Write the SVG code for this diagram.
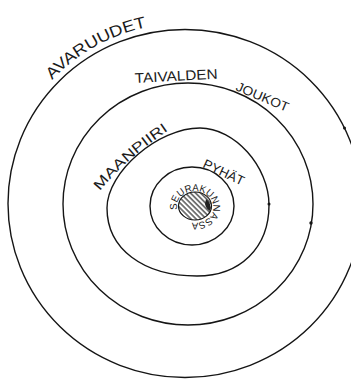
<svg xmlns="http://www.w3.org/2000/svg" xmlns:xlink="http://www.w3.org/1999/xlink" width="351" height="379" viewBox="0 0 351 379">
  <style>
    .ring { fill: none; stroke: #151515; stroke-width: 1.4; }
    .blob { fill: #151515; }
    .lbl { font-family: "Liberation Sans", "DejaVu Sans", sans-serif; fill: #1a1a1a; }
  </style>
  <defs>
    <pattern id="hatch" patternUnits="userSpaceOnUse" width="3.6" height="3.6" patternTransform="rotate(45)">
      <line x1="0" y1="1.8" x2="3.6" y2="1.8" stroke="#151515" stroke-width="1.1"/>
    </pattern>
    <path id="pAvar" d="M 52 80 A 183 181 0 0 1 230 28.6"/>
    <path id="pMaan" d="M 100 191 Q 127 157 178 124"/>
    <path id="pCore" d="M 177.3 209.6 A 18 15 0 1 1 212.7 204.4 A 18 15 0 1 1 177.3 209.6"/>
  </defs>
  <rect width="351" height="379" fill="#ffffff"/>

  <g id="avaruudet">
    <ellipse class="ring" cx="185" cy="203.5" rx="177" ry="174"/>
    <circle class="blob" cx="344.5" cy="128" r="1.5"/>
    <text class="lbl" font-size="16"><textPath href="#pAvar" xlink:href="#pAvar" textLength="110" lengthAdjust="spacingAndGlyphs">AVARUUDET</textPath></text>
  </g>

  <g id="taivalden-joukot">
    <ellipse class="ring" cx="188" cy="204" rx="125" ry="121"/>
    <circle class="blob" cx="311" cy="223" r="1.7"/>
    <text class="lbl" font-size="14" x="135" y="83" transform="rotate(-3 135 83)" textLength="83" lengthAdjust="spacingAndGlyphs">TAIVALDEN</text>
    <text class="lbl" font-size="13" x="235" y="90" transform="rotate(23 235 90)" textLength="56" lengthAdjust="spacingAndGlyphs">JOUKOT</text>
  </g>

  <g id="maanpiiri">
    <path class="ring" d="M 200 128 C 234.5 128 269 166.5 269 205 C 269 247.6 240.2 276 197 276 C 143 276 107 248.8 107 208 C 107 172 158.1 128 200 128 Z"/>
    <circle class="blob" cx="269" cy="204" r="1.5"/>
    <text class="lbl" font-size="14"><textPath href="#pMaan" xlink:href="#pMaan" textLength="92" lengthAdjust="spacingAndGlyphs">MAANPIIRI</textPath></text>
  </g>

  <g id="pyhat">
    <ellipse class="ring" cx="192" cy="206" rx="42" ry="39"/>
    <text class="lbl" font-size="13" x="202" y="167" transform="rotate(25 202 167)" textLength="44" lengthAdjust="spacingAndGlyphs">PYHÄT</text>
  </g>

  <g id="seurakunnassa">
    <ellipse cx="195" cy="206" rx="16.5" ry="14" fill="url(#hatch)" stroke="#151515" stroke-width="1.2"/>
    <path d="M 206 199 Q 212 203 210 211 Q 206 209 205 204 Z" fill="#222"/>
    <text class="lbl" font-size="10"><textPath href="#pCore" xlink:href="#pCore" textLength="86" lengthAdjust="spacingAndGlyphs">SEURAKUNNASSA</textPath></text>
  </g>
</svg>
